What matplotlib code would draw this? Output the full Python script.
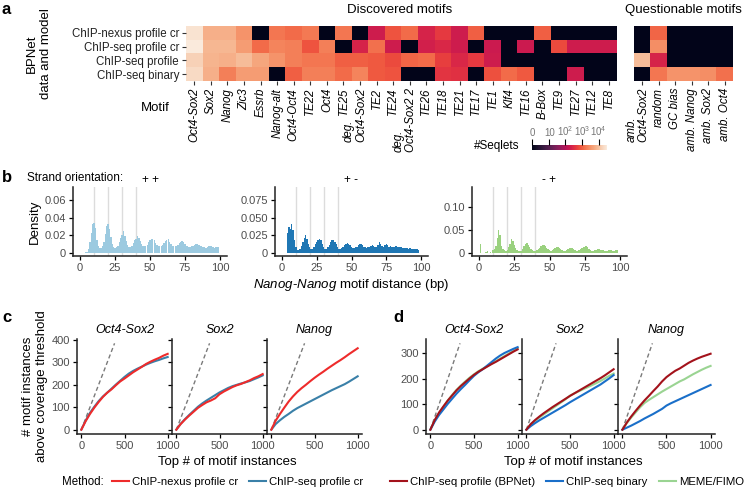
import numpy as np
import matplotlib
matplotlib.use('Agg')
import matplotlib.pyplot as plt
import matplotlib.transforms as mtransforms
from matplotlib.colors import Normalize
from matplotlib.cm import ScalarMappable
from matplotlib.lines import Line2D
import seaborn as sns

plt.rcParams['font.family'] = ['Liberation Sans', 'DejaVu Sans']
plt.rcParams['mathtext.fontset'] = 'custom'
plt.rcParams['mathtext.rm'] = 'Liberation Sans'
plt.rcParams['mathtext.it'] = 'Liberation Sans:italic'

# ---------------- data: panel a (log10(#seqlets + 1)) ----------------
models = ['ChIP-nexus profile cr', 'ChIP-seq profile cr', 'ChIP-seq profile', 'ChIP-seq binary']
motifs = ['Oct4-Sox2', 'Sox2', 'Nanog', 'Zic3', 'Essrb', 'Nanog-alt', 'Oct4-Oct4', 'TE22', 'Oct4',
          'TE25', 'deg.\nOct4-Sox2', 'TE2', 'TE24', 'deg.\nOct4-Sox2 2', 'TE26', 'TE18', 'TE21',
          'TE17', 'TE1', 'Klf4', 'TE16', 'B-Box', 'TE9', 'TE27', 'TE12', 'TE8']
seqlets_nexus_cr = [4.4, 3.8, 3.8, 3.5, 0, 3.2, 3.1, 3.25, 0, 3.2, 0, 2.3, 2.9, 3.1, 2.4, 2.65,
                    2.3, 3.0, 0, 0, 0, 3.0, 0, 0, 0, 0]
seqlets_seq_cr = [4.6, 3.9, 3.9, 3.6, 3.1, 3.35, 3.3, 2.9, 3.3, 0, 2.4, 3.15, 2.3, 0, 2.35, 2.45,
                  2.3, 0, 2.25, 0, 2.25, 0, 2.8, 2.3, 2.3, 2.3]
seqlets_seq_profile = [4.2, 3.85, 3.8, 3.95, 3.7, 3.5, 3.3, 3.2, 3.2, 3.0, 3.0, 2.95, 2.8, 3.05,
                       3.1, 2.7, 2.45, 2.65, 2.3, 0, 0, 0, 0, 0, 0, 0]
seqlets_seq_binary = [4.3, 3.8, 3.3, 3.6, 3.6, 0, 3.0, 3.3, 3.3, 3.1, 3.35, 2.95, 2.9, 0, 0, 2.6,
                      2.55, 0, 2.85, 3.1, 2.95, 0, 0, 2.3, 0, 0]

q_motifs = ['amb.\nOct4-Sox2', 'random', 'GC bias', 'amb. Nanog', 'amb. Sox2', 'amb. Oct4']
q_nexus_cr = [0, 3.05, 0, 0, 0, 0]
q_seq_cr = [0, 3.45, 0, 0, 0, 0]
q_seq_profile = [3.95, 2.4, 0, 0, 0, 0]
q_seq_binary = [0, 3.2, 3.5, 3.5, 3.45, 3.15]

cbar_ticks = [0, 1.04, 2, 3, 4]
cbar_labels = ['0', '10', '10$^2$', '10$^3$', '10$^4$']

# ---------------- data: panel b (density per 1 bp bin, 0..99) ----------------
distance = np.arange(100)
dens_pp = [0, 0, 0, 0, 0.001, 0.001, 0.004, 0.012, 0.022, 0.033,
           0.034, 0.028, 0.014, 0.007, 0.005, 0.005, 0.007, 0.012, 0.021, 0.030,
           0.033, 0.027, 0.018, 0.010, 0.006, 0.005, 0.006, 0.008, 0.012, 0.017,
           0.020, 0.025, 0.019, 0.013, 0.009, 0.006, 0.006, 0.008, 0.011, 0.014,
           0.016, 0.019, 0.017, 0.013, 0.010, 0.008, 0.007, 0.008, 0.009, 0.012,
           0.014, 0.015, 0.016, 0.014, 0.011, 0.009, 0.007, 0.007, 0.008, 0.009,
           0.011, 0.013, 0.014, 0.015, 0.012, 0.010, 0.008, 0.007, 0.007, 0.008,
           0.009, 0.011, 0.012, 0.013, 0.012, 0.010, 0.008, 0.007, 0.006, 0.006,
           0.007, 0.008, 0.009, 0.010, 0.010, 0.009, 0.008, 0.007, 0.006, 0.006,
           0.005, 0.006, 0.007, 0.007, 0.007, 0.006, 0.005, 0.006, 0.006, 0.006]
dens_pm = [0, 0, 0, 0, 0.028, 0.037, 0.034, 0.041, 0.033, 0.019,
           0.008, 0.004, 0.004, 0.006, 0.010, 0.016, 0.021, 0.025, 0.020, 0.013,
           0.008, 0.006, 0.006, 0.008, 0.012, 0.016, 0.019, 0.020, 0.018, 0.013,
           0.008, 0.006, 0.006, 0.008, 0.011, 0.015, 0.018, 0.019, 0.016, 0.012,
           0.008, 0.006, 0.006, 0.007, 0.009, 0.011, 0.013, 0.014, 0.013, 0.011,
           0.009, 0.007, 0.007, 0.008, 0.009, 0.011, 0.012, 0.012, 0.011, 0.009,
           0.008, 0.007, 0.008, 0.009, 0.010, 0.011, 0.010, 0.009, 0.009, 0.011,
           0.016, 0.012, 0.010, 0.009, 0.011, 0.012, 0.011, 0.009, 0.010, 0.009,
           0.008, 0.009, 0.010, 0.008, 0.008, 0.008, 0.008, 0.007, 0.007, 0.007,
           0.007, 0.006, 0.007, 0.006, 0.006, 0.006, 0.005, 0.005, 0.004, 0]
dens_mp = [0, 0.020, 0, 0, 0, 0.002, 0.003, 0, 0.001, 0,
           0.006, 0.009, 0.014, 0.032, 0.050, 0.038, 0.014, 0.008, 0.006, 0.005,
           0.007, 0.012, 0.020, 0.031, 0.025, 0.016, 0.010, 0.007, 0.005, 0.004,
           0.005, 0.008, 0.014, 0.020, 0.022, 0.017, 0.013, 0.009, 0.007, 0.005,
           0.005, 0.006, 0.008, 0.011, 0.014, 0.016, 0.016, 0.014, 0.011, 0.008,
           0.006, 0.005, 0.006, 0.008, 0.011, 0.013, 0.013, 0.011, 0.009, 0.007,
           0.005, 0.005, 0.006, 0.008, 0.010, 0.011, 0.010, 0.008, 0.006, 0.005,
           0.005, 0.006, 0.008, 0.010, 0.012, 0.013, 0.015, 0.013, 0.009, 0.006,
           0.005, 0.005, 0.006, 0.007, 0.008, 0.008, 0.007, 0.006, 0.006, 0.005,
           0.004, 0.005, 0.006, 0.006, 0.006, 0.005, 0.005, 0.006, 0.006, 0]
orient_labels = ['+ +', '+ -', '- +']
helical_lines = [10, 20, 30, 40]

# ---------------- data: panels c, d ----------------
motif_titles = ['Oct4-Sox2', 'Sox2', 'Nanog']
top_n = [0, 50, 100, 150, 200, 250, 300, 350, 400, 450, 500,
         550, 600, 650, 700, 750, 800, 850, 900, 950, 1000]

c_nexus_cr = [
    [0, 38, 70, 98, 123, 146, 165, 180, 198, 215, 228, 242, 256, 268, 280, 293, 303, 312, 320, 330, 338],
    [0, 25, 45, 63, 80, 97, 110, 122, 130, 140, 158, 170, 180, 190, 198, 204, 212, 220, 230, 238, 248],
    [0, 40, 70, 98, 125, 148, 168, 185, 200, 216, 231, 245, 258, 272, 285, 298, 310, 323, 337, 350, 363],
]
c_seq_cr = [
    [0, 40, 75, 102, 127, 148, 165, 183, 201, 218, 235, 250, 262, 272, 281, 290, 298, 305, 311, 318, 324],
    [0, 26, 47, 66, 84, 102, 117, 130, 142, 154, 166, 176, 186, 194, 200, 206, 211, 217, 225, 233, 242],
    [0, 25, 42, 57, 70, 84, 96, 106, 116, 126, 136, 146, 156, 166, 176, 185, 194, 203, 214, 226, 238],
]
d_seq_profile = [
    [0, 38, 68, 92, 115, 135, 155, 172, 187, 202, 216, 228, 238, 248, 258, 267, 277, 287, 297, 307, 316],
    [0, 22, 38, 52, 65, 77, 89, 100, 111, 122, 133, 143, 153, 163, 173, 183, 193, 203, 214, 226, 238],
    [0, 28, 52, 74, 95, 115, 133, 152, 170, 190, 207, 220, 232, 241, 252, 263, 272, 280, 287, 293, 299],
]
d_seq_binary = [
    [0, 32, 58, 80, 102, 122, 142, 160, 177, 195, 212, 226, 238, 252, 266, 280, 292, 302, 310, 318, 325],
    [0, 14, 26, 37, 47, 57, 67, 77, 87, 97, 108, 118, 128, 138, 148, 158, 168, 178, 190, 202, 215],
    [0, 8, 16, 25, 34, 44, 53, 62, 72, 82, 95, 104, 112, 120, 128, 136, 144, 152, 160, 168, 176],
]
d_meme_fimo = [
    [0, 36, 64, 90, 115, 137, 157, 174, 190, 205, 218, 230, 240, 250, 260, 270, 280, 290, 300, 310, 320],
    [0, 20, 35, 48, 60, 72, 84, 96, 108, 120, 134, 143, 151, 159, 167, 175, 183, 192, 202, 212, 221],
    [0, 26, 48, 68, 88, 105, 117, 128, 139, 150, 160, 170, 180, 190, 198, 208, 218, 227, 236, 244, 251],
]
c_diag_end = 385
d_diag_end = 340

# ---------------- figure ----------------
W, H = 750, 491
fig = plt.figure(figsize=(W / 100, H / 100), dpi=100)


def px_rect(x0, y0, x1, y1):
    return [x0 / W, 1 - y1 / H, (x1 - x0) / W, (y1 - y0) / H]


grey = '#4d4d4d'
rocket = sns.color_palette('rocket', as_cmap=True)
vmax = 4.5

# ---- panel a ----
fig.text(2 / W, 1 - 10 / H, 'a', fontsize=12, weight='bold', va='center')
fig.text(400 / W, 1 - 10 / H, 'Discovered motifs', fontsize=9.5, ha='center', va='center')
fig.text(683 / W, 1 - 10 / H, 'Questionable motifs', fontsize=9.5, ha='center', va='center')
fig.text(39 / W, 1 - 54 / H, 'BPNet\ndata and model', fontsize=9.5, rotation=90,
         ha='center', va='center', multialignment='center')
fig.text(155 / W, 1 - 108 / H, 'Motif', fontsize=9.5, ha='center', va='center')

heat_main = np.array([seqlets_nexus_cr, seqlets_seq_cr, seqlets_seq_profile, seqlets_seq_binary])
heat_q = np.array([q_nexus_cr, q_seq_cr, q_seq_profile, q_seq_binary])

ax_h1 = fig.add_axes(px_rect(186, 26, 617, 81))
ax_h2 = fig.add_axes(px_rect(634, 26, 733, 81))
for ax, vals, labels in [(ax_h1, heat_main, motifs), (ax_h2, heat_q, q_motifs)]:
    ax.imshow(vals, cmap=rocket, vmin=0, vmax=vmax, aspect='auto', interpolation='nearest')
    for s in ax.spines.values():
        s.set_visible(False)
    ax.set_xticks(range(len(labels)))
    ax.set_xticklabels(labels, rotation=90, fontsize=8.3, style='italic', rotation_mode='anchor',
                       ha='right', va='center', multialignment='left', linespacing=1.0)
    ax.tick_params(axis='both', length=3, width=0.8, color='#333333', pad=2)
    for lab in ax.get_xticklabels():
        if '\n' in lab.get_text():
            lab.set_transform(lab.get_transform() +
                              mtransforms.ScaledTranslation(-5 / 100, 0, fig.dpi_scale_trans))
ax_h1.set_yticks(range(len(models)))
ax_h1.set_yticklabels(models, fontsize=8.3, color='#222222')
ax_h2.set_yticks([])

cax = fig.add_axes(px_rect(532, 145, 607, 150))
cb = fig.colorbar(ScalarMappable(norm=Normalize(0, vmax), cmap=rocket), cax=cax,
                  orientation='horizontal')
cb.outline.set_visible(False)
cax.xaxis.set_ticks_position('top')
cb.set_ticks(cbar_ticks)
cb.set_ticklabels(cbar_labels)
cax.tick_params(axis='x', length=4, width=0.8, labelsize=7, labelcolor='#777777', pad=1)
fig.text(497 / W, 1 - 146 / H, '#Seqlets', fontsize=8.5, ha='center', va='center')

# ---- panel b ----
fig.text(2 / W, 1 - 178 / H, 'b', fontsize=12, weight='bold', va='center')
fig.text(27 / W, 1 - 178 / H, 'Strand orientation:', fontsize=8.5, va='center')

hist_specs = [
    (px_rect(73, 187, 227, 256), dens_pp, '#9ccae0', (-0.004, 0.075),
     [0, 0.02, 0.04, 0.06], ['0', '0.02', '0.04', '0.06']),
    (px_rect(275, 187, 428, 256), dens_pm, '#1f77b4', (-0.0045, 0.094),
     [0, 0.025, 0.05, 0.075], ['0', '0.025', '0.050', '0.075']),
    (px_rect(472, 187, 627, 256), dens_mp, '#9ad17f', (-0.0068, 0.143),
     [0, 0.05, 0.10], ['0', '0.05', '0.10']),
]
for i, (rect, dens, col, ylim, yt, ytl) in enumerate(hist_specs):
    ax = fig.add_axes(rect)
    for xv in helical_lines:
        ax.axvline(xv, color='#dcdcdc', lw=1.0, zorder=0)
    ax.bar(distance, dens, width=1.0, color=col, linewidth=0, zorder=2)
    ax.set_xlim(-5, 105)
    ax.set_ylim(*ylim)
    ax.set_xticks([0, 25, 50, 75, 100])
    ax.set_yticks(yt)
    ax.set_yticklabels(ytl)
    for s in ['top', 'right']:
        ax.spines[s].set_visible(False)
    for s in ['left', 'bottom']:
        ax.spines[s].set_linewidth(1.1)
        ax.spines[s].set_color('#222222')
    ax.tick_params(length=3, width=0.9, labelsize=8, labelcolor=grey, pad=2)
    ax.set_title(orient_labels[i], fontsize=8.5, pad=3)
    if i == 0:
        ax.set_ylabel('Density', fontsize=9.5, labelpad=3)
    if i == 1:
        ax.set_xlabel(r'$\mathit{Nanog}$-$\mathit{Nanog}$ motif distance (bp)', fontsize=9.5,
                      labelpad=3)


# ---- panels c, d ----
def facet_row(x_edges, series, colors, diag_end, yt):
    axes = []
    for j in range(3):
        ax = fig.add_axes(px_rect(x_edges[j], 339, x_edges[j + 1], 434))
        ax.plot([0, diag_end], [0, diag_end], color='#7a7a7a', lw=1.0, ls=(0, (3, 2)))
        for vals, col in zip(series, colors):
            ax.plot(top_n, vals[j], color=col, lw=1.5)
        ax.set_xlim(-50, 1050)
        ax.set_ylim(-0.05 * diag_end, 1.05 * diag_end)
        ax.set_xticks([0, 500, 1000])
        if j > 0:
            ax.set_xticklabels(['', '500', '1000'])
        ax.set_yticks(yt)
        if j > 0:
            ax.set_yticklabels([])
        for s in ['top', 'right']:
            ax.spines[s].set_visible(False)
        for s in ['left', 'bottom']:
            ax.spines[s].set_linewidth(1.1)
            ax.spines[s].set_color('#222222')
        ax.tick_params(length=3, width=0.9, labelsize=8, labelcolor=grey, pad=2)
        ax.set_title(motif_titles[j], fontsize=9, style='italic', pad=4)
        axes.append(ax)
    return axes


c_cols = ['#ee2b2b', '#3a80a8']
d_cols = ['#a3121b', '#1a6fc9', '#9ad492']
axc = facet_row([77, 172, 267, 362], [c_seq_cr, c_nexus_cr], [c_cols[1], c_cols[0]], c_diag_end,
                [0, 100, 200, 300, 400])
axd = facet_row([426, 522, 618, 715], [d_meme_fimo, d_seq_binary, d_seq_profile],
                [d_cols[2], d_cols[1], d_cols[0]], d_diag_end, [0, 100, 200, 300])

fig.text(2 / W, 1 - 318 / H, 'c', fontsize=12, weight='bold', va='center')
fig.text(393 / W, 1 - 318 / H, 'd', fontsize=12, weight='bold', va='center')
fig.text(35 / W, 1 - 386 / H, '# motif instances\nabove coverage threshold', fontsize=9.5,
         rotation=90, ha='center', va='center', multialignment='center')
fig.text(227 / W, 1 - 462 / H, 'Top # of motif instances', fontsize=9.5, ha='center', va='center')
fig.text(573 / W, 1 - 462 / H, 'Top # of motif instances', fontsize=9.5, ha='center', va='center')

fig.text(62 / W, 1 - 482 / H, 'Method:', fontsize=8.3, va='center')
c_labels = ['ChIP-nexus profile cr', 'ChIP-seq profile cr']
d_labels = ['ChIP-seq profile (BPNet)', 'ChIP-seq binary', 'MEME/FIMO']
for x0, labels, cols in [(112, c_labels, c_cols), (390, d_labels, d_cols)]:
    handles = [Line2D([], [], color=c, lw=1.5) for c in cols]
    fig.legend(handles, labels, loc='center left', bbox_to_anchor=(x0 / W, 1 - 482 / H),
               ncol=len(labels), frameon=False, fontsize=8.2, handlelength=1.45,
               handletextpad=0.3, columnspacing=1.0, borderpad=0, borderaxespad=0)

fig.savefig('out.png', dpi=100)
